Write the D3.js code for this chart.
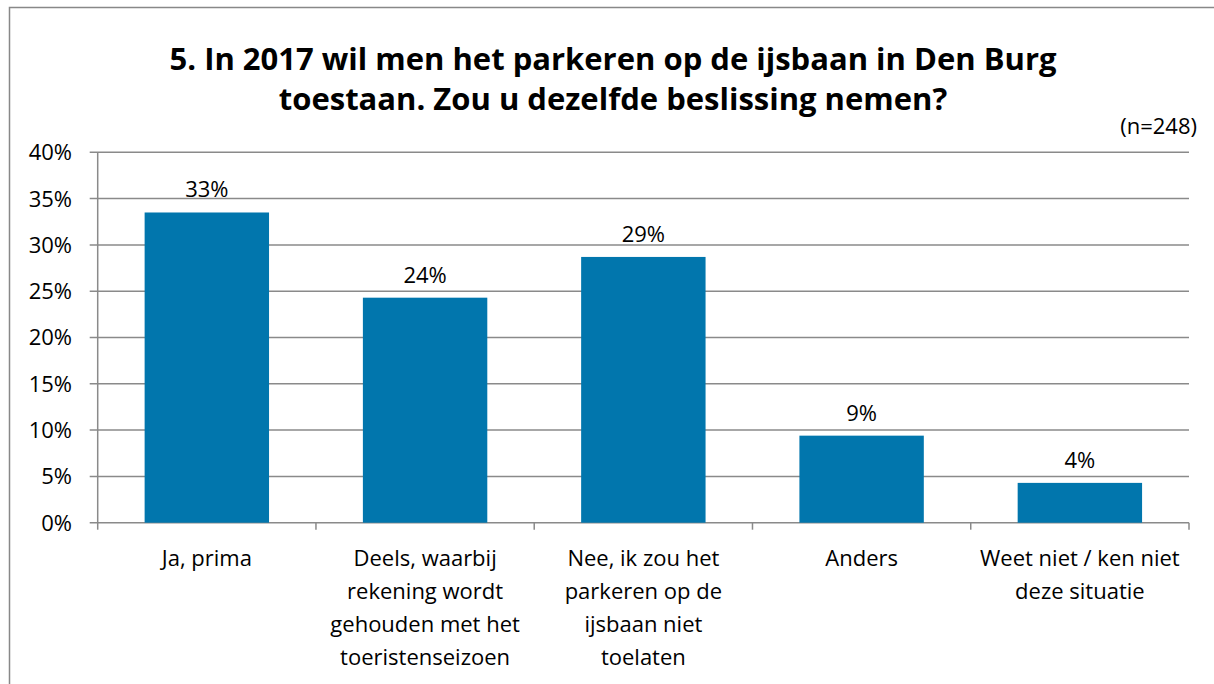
<!DOCTYPE html>
<html>
<head>
<meta charset="utf-8">
<script src="https://cdn.jsdelivr.net/npm/d3@7"></script>
<style>
  body { margin: 0; background: #fff; }
  text { font-family: "Open Sans", "Noto Sans", sans-serif; fill: #000; }
</style>
</head>
<body>
<div class="chart"></div>
<script>
// data
const categories = [
    ["Ja, prima"],
    ["Deels, waarbij", "rekening wordt", "gehouden met het", "toeristenseizoen"],
    ["Nee, ik zou het", "parkeren op de", "ijsbaan niet", "toelaten"],
    ["Anders"],
    ["Weet niet / ken niet", "deze situatie"]
];
const values = [33.5, 24.3, 28.7, 9.4, 4.3];
const valueLabels = ["33%", "24%", "29%", "9%", "4%"];
const yTicks = [0, 5, 10, 15, 20, 25, 30, 35, 40];
const titleLines = ["5. In 2017 wil men het parkeren op de ijsbaan in Den Burg",
    "toestaan. Zou u dezelfde beslissing nemen?"];

const w = 1214;
const h = 684;
const margin = { left: 97.7, right: 25, top: 152.3, bottom: 161.3 };

const svg = d3.select(".chart")
    .append("svg")
    .attr("width", w)
    .attr("height", h);

// outer frame of the chart (only left and top edges are in view)
svg.append("rect")
    .attr("x", 9.5)
    .attr("y", 7.5)
    .attr("width", w)
    .attr("height", h)
    .attr("fill", "none")
    .attr("stroke", "#888")
    .attr("stroke-width", 1.5);

const keys = categories.map((d, i) => i);

const xScale = d3.scaleBand()
    .domain(keys)
    .range([margin.left, w - margin.right])
    .paddingInner(0.43)
    .paddingOuter(0.215);

const yScale = d3.scaleLinear()
    .domain([0, 40])
    .range([h - margin.bottom, margin.top]);

// gridlines
svg.append("g")
    .selectAll("line")
    .data(yTicks)
    .enter()
    .append("line")
    .attr("x1", margin.left - 8)
    .attr("x2", w - margin.right)
    .attr("y1", d => yScale(d))
    .attr("y2", d => yScale(d))
    .attr("stroke", "#8a8a8a")
    .attr("stroke-width", 1.5);

// y axis line
svg.append("line")
    .attr("x1", margin.left)
    .attr("x2", margin.left)
    .attr("y1", yScale(40))
    .attr("y2", yScale(0))
    .attr("stroke", "#8a8a8a")
    .attr("stroke-width", 1.5);

// category ticks on the x axis
const step = xScale.step();
svg.append("g")
    .selectAll("line")
    .data(d3.range(categories.length + 1))
    .enter()
    .append("line")
    .attr("x1", d => margin.left + d * step)
    .attr("x2", d => margin.left + d * step)
    .attr("y1", yScale(0))
    .attr("y2", yScale(0) + 7)
    .attr("stroke", "#8a8a8a")
    .attr("stroke-width", 1.5);

svg.append("g")
    .selectAll("text")
    .data(yTicks)
    .enter()
    .append("text")
    .attr("x", 72)
    .attr("y", d => yScale(d))
    .attr("dy", "0.36em")
    .attr("text-anchor", "end")
    .attr("font-size", "22px")
    .text(d => d + "%");

// bars
svg.append("g")
    .selectAll("rect")
    .data(values)
    .enter()
    .append("rect")
    .attr("x", (d, i) => xScale(i))
    .attr("y", d => yScale(d))
    .attr("width", xScale.bandwidth())
    .attr("height", d => yScale(0) - yScale(d))
    .attr("fill", "#0176ad");

svg.append("g")
    .selectAll("text")
    .data(values)
    .enter()
    .append("text")
    .attr("x", (d, i) => xScale(i) + xScale.bandwidth() / 2)
    .attr("y", d => yScale(d) - 15)
    .attr("text-anchor", "middle")
    .attr("font-size", "22px")
    .text((d, i) => valueLabels[i]);

// category labels
const catGroups = svg.append("g")
    .selectAll("text")
    .data(categories)
    .enter()
    .append("text")
    .attr("text-anchor", "middle")
    .attr("font-size", "22px")
    .attr("transform", (d, i) => `translate(${xScale(i) + xScale.bandwidth() / 2},566)`);

catGroups.selectAll("tspan")
    .data(d => d)
    .enter()
    .append("tspan")
    .attr("x", 0)
    .attr("y", (d, i) => i * 33)
    .text(d => d);

// title
svg.append("g")
    .selectAll("text")
    .data(titleLines)
    .enter()
    .append("text")
    .attr("x", 613)
    .attr("y", (d, i) => 70 + i * 40)
    .attr("text-anchor", "middle")
    .attr("font-size", "31px")
    .attr("font-weight", "bold")
    .text(d => d);

svg.append("text")
    .attr("x", 1197)
    .attr("y", 134)
    .attr("text-anchor", "end")
    .attr("font-size", "22px")
    .text("(n=248)");
</script>
</body>
</html>
